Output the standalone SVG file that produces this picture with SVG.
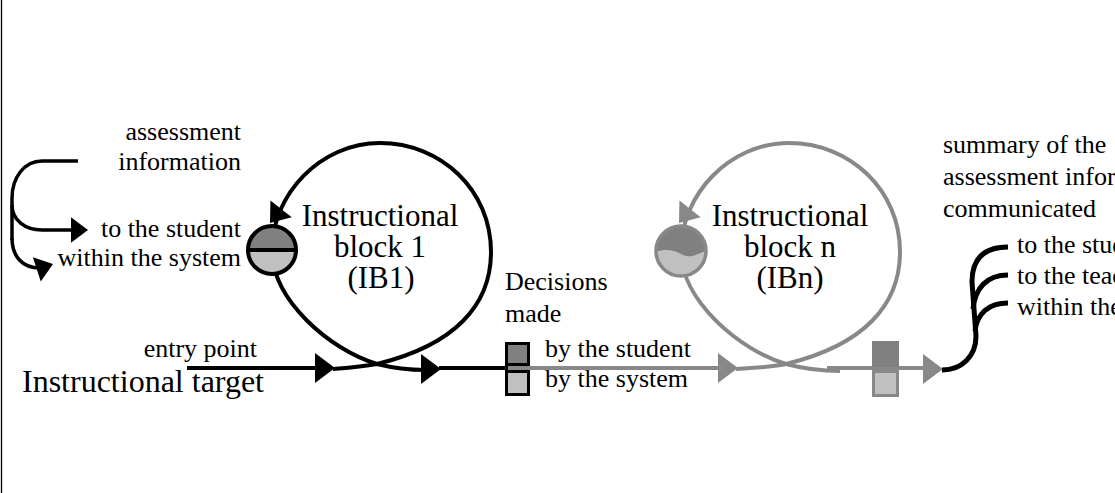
<svg xmlns="http://www.w3.org/2000/svg" xmlns:xlink="http://www.w3.org/1999/xlink" width="1115" height="493" viewBox="0 0 1115 493">
<style>
  text { font-family: "Liberation Serif", "Times New Roman", serif; fill: #000; }
  .sm { font-size: 26px; }
  .lg { font-size: 32px; }
  .blk2 { font-size: 31px; }
  .blk { fill: none; stroke: #000; stroke-width: 4; }
  .gry { fill: none; stroke: #888; stroke-width: 4; }
  .brk { fill: none; stroke: #000; stroke-width: 3.5; }
  .dark { fill: #808080; }
  .light { fill: #c0c0c0; }
</style>
<defs>
  <path id="ah" d="M0 0 L-20 -15 L-20 15 Z"/>
  <clipPath id="cn"><circle cx="681" cy="251" r="25"/></clipPath>
</defs>
<rect width="1115" height="493" fill="#fff"/>
<g id="border"><line x1="1.5" y1="0" x2="1.5" y2="493" stroke="#000" stroke-width="1.3"/></g>

<g id="connectors">
  <!-- left bracket -->
  <path class="brk" d="M78 161 L42 161 C24 161 12 178 12 198 L12 240"/>
  <path class="brk" d="M12 205 C12 220 25 230 42 230 L74 230"/>
  <path class="brk" d="M12 238 C12 256 22 268 40 268"/>
  <use xlink:href="#ah" transform="translate(88 230) scale(0.85)"/>
  <use xlink:href="#ah" transform="translate(53 264) rotate(-18) scale(0.85)"/>
  <!-- entry line and loop 1 -->
  <line class="blk" x1="187" y1="368" x2="318" y2="368"/>
  <path class="blk" d="M333 369 C346 368 361 367 377 364 C455 345 491 305 491 252 C491 190 441 143 380 143 C320 143 272 195 272 250 C272 300 330 350 377 364 C393 368 408 370 426 370"/>
  <use xlink:href="#ah" transform="translate(335 368)"/>
  <use xlink:href="#ah" transform="translate(441 369)"/>
  <use xlink:href="#ah" transform="translate(270 223) rotate(128) scale(0.9)"/>
  <line class="blk" x1="439" y1="368" x2="508" y2="368"/>
  <!-- gray line and loop n -->
  <line class="gry" x1="508" y1="368" x2="722" y2="368"/>
  <use xlink:href="#ah" transform="translate(738 368)" fill="#888"/>
  <path class="gry" d="M736 369 C755 368 770 367 786 364 C864 345 900 305 900 252 C900 190 850 143 789 143 C729 143 681 195 681 251 C681 300 739 350 786 364 C805 369 822 371 840 371"/>
  <use xlink:href="#ah" transform="translate(679 223) rotate(128) scale(0.9)" fill="#888"/>
  <line class="gry" x1="827" y1="368" x2="928" y2="368"/>
  <use xlink:href="#ah" transform="translate(943 369)" fill="#888"/>
  <!-- right bracket -->
  <path fill="none" stroke="#000" stroke-width="5" d="M942 370 C962 370 976 356 976 336 L972 282 C972 258 985 247 1008 247"/>
  <path fill="none" stroke="#000" stroke-width="5" d="M973 309 C975 288 987 275 1008 275"/>
  <path fill="none" stroke="#000" stroke-width="5" d="M975 331 C977 314 988 303 1008 303"/>
</g>

<g id="ib1">
  <path class="dark" d="M248 250 A24 24 0 0 1 296 250 Z"/>
  <path class="light" d="M248 250 A24 24 0 0 0 296 250 Z"/>
  <line x1="248" y1="250" x2="296" y2="250" stroke="#000" stroke-width="4"/>
  <circle cx="272" cy="250" r="24" fill="none" stroke="#000" stroke-width="4"/>
  <text class="blk2" x="380" y="226" text-anchor="middle">Instructional</text>
  <text class="blk2" x="380" y="257" text-anchor="middle">block 1</text>
  <text class="blk2" x="381" y="288" text-anchor="middle">(IB1)</text>
</g>

<g id="ibn">
  <circle class="dark" cx="681" cy="251" r="25"/>
  <path class="light" clip-path="url(#cn)" d="M654 253 C664 248 674 250 683 255 C691 259 699 253 708 250 L708 280 L654 280 Z"/>
  <circle cx="681" cy="251" r="25" fill="none" stroke="#888" stroke-width="3.5"/>
  <text class="blk2" x="790" y="226" text-anchor="middle">Instructional</text>
  <text class="blk2" x="790" y="257" text-anchor="middle">block n</text>
  <text class="blk2" x="790" y="288" text-anchor="middle">(IBn)</text>
</g>

<g id="decision1">
  <rect class="dark" x="506.5" y="343.5" width="22" height="21" stroke="#000" stroke-width="3"/>
  <rect class="light" x="506.5" y="371.5" width="22" height="23" stroke="#000" stroke-width="3"/>
</g>

<g id="decision2">
  <rect class="dark" x="873.5" y="342.5" width="24" height="23" stroke="#808080" stroke-width="3"/>
  <rect class="light" x="873.5" y="371.5" width="24" height="24" stroke="#888" stroke-width="3"/>
</g>

<g id="labels">
  <text class="sm" x="241" y="140" text-anchor="end">assessment</text>
  <text class="sm" x="241" y="170" text-anchor="end">information</text>
  <text class="sm" x="241" y="237" text-anchor="end">to the student</text>
  <text class="sm" x="241" y="266" text-anchor="end">within the system</text>
  <text class="sm" x="257" y="357" text-anchor="end">entry point</text>
  <text class="lg" x="22" y="392">Instructional target</text>
  <text class="sm" x="505" y="290">Decisions</text>
  <text class="sm" x="505" y="322">made</text>
  <text class="sm" x="545" y="357">by the student</text>
  <text class="sm" x="545" y="387">by the system</text>
  <text class="sm" x="943" y="153">summary of the</text>
  <text class="sm" x="943" y="185">assessment information</text>
  <text class="sm" x="943" y="217">communicated</text>
  <text class="sm" x="1017" y="253">to the student</text>
  <text class="sm" x="1017" y="284">to the teacher</text>
  <text class="sm" x="1017" y="315">within the system</text>
</g>
</svg>
